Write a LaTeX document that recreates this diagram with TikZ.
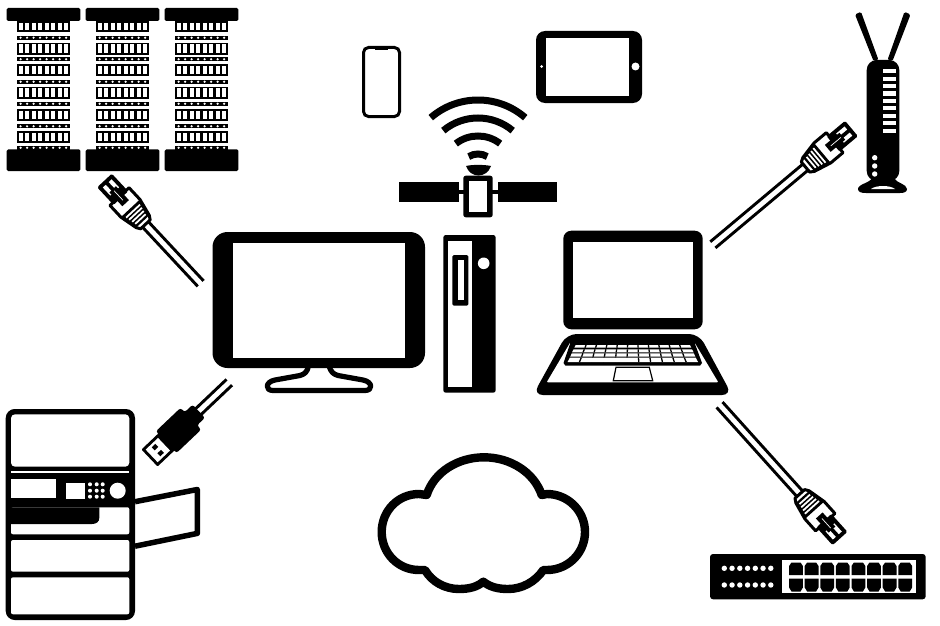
\documentclass[tikz,border=0pt]{standalone}
\usetikzlibrary{calc}
\tikzset{
  ink/.style={fill=black,draw=none},
  paper/.style={fill=white,draw=none},
  wire/.style={draw=black,line width=2.9pt},
  wave/.style={draw=black,line width=7pt,line cap=butt},
  outline/.style={draw=black,fill=white,line join=round}
}
\newcommand{\rjplug}[4]{%
  \begin{scope}[shift={(#1,#2)},rotate=#3]
    \draw[wire] (50,4) -- (#4,4);
    \draw[wire] (50,-4) -- (#4,-4);
    % boot
    \draw[outline,line width=3pt] (22,-13) -- (38,-13) -- (56,-9) -- (60,-6.5) -- (60,6.5) -- (56,9) -- (38,13) -- (22,13) -- cycle;
    % ring
    \fill[ink] (38,-13) -- (56,-9) -- (56,9) -- (38,13) -- cycle;
    \foreach \u/\w in {41/9.5,44.6/8.7,48.2/7.9,51.8/7.1}
      \fill[paper] (\u,-\w) rectangle (\u+1.8,\w);
    % head
    \fill[ink,rounded corners=1.5pt] (0,-10) -- (24,-10) -- (24,10) -- (0,10) -- cycle;
    \fill[paper] (4,-6) -- (15,-6) -- (15,-2) -- (4,-2) -- cycle;
    \fill[paper] (4,2) -- (15,2) -- (15,6) -- (4,6) -- cycle;
    \fill[ink] (12,-4.5) rectangle (31,4.5);
    \draw[white,line width=.7pt] (14,0) -- (27,0);
  \end{scope}}
\newcommand{\usbplug}[4]{%
  \begin{scope}[shift={(#1,#2)},rotate=#3]
    \draw[wire] (60,4) -- (#4,4);
    \draw[wire] (60,-4) -- (#4,-4);
    \fill[ink,rounded corners=2.5pt] (23,-15) -- (57,-15) -- (57,-9) -- (68,-9) -- (68,9) -- (57,9) -- (57,15) -- (23,15) -- cycle;
    \fill[ink,rounded corners=1pt] (0,-11.7) rectangle (26,11.7);
    \fill[paper] (3,-8.7) rectangle (20,8.7);
    \fill[ink] (9,-6.2) rectangle (14,-2);
    \fill[ink] (9,2) rectangle (14,6.2);
  \end{scope}}
\begin{document}
\begin{tikzpicture}[x=1pt,y=-1pt]
\useasboundingbox (0,0) rectangle (940,626);
\fill[white] (0,0) rectangle (940,626);

% server racks
\foreach \dx in {0,79,158}{
  \begin{scope}[shift={(\dx,0)}]
    \foreach \ty/\th in {21/11.3,42.7/12,64.3/12,86.7/12,108.7/12,130.7/12}{
      \fill[ink] (16.5,\ty) rectangle (70,\ty+\th);
      \foreach \i in {0,...,7}
        \fill[paper] (18.8+6.5*\i,\ty+1.8) rectangle (22.6+6.5*\i,\ty+\th-1.8);
    }
    \foreach \sy in {37.7,59.3,81.7,103.7,126.3,147.7}{
      \fill[ink] (16.5,\sy-1.9) rectangle (70,\sy+1.9);
      \foreach \i in {0,...,7}
        \fill[paper] (20.6+6.5*\i,\sy) circle (1.2);
    }
    \fill[ink,rounded corners=1.5pt] (6.7,8) rectangle (80.4,21);
    \fill[ink,rounded corners=1.5pt] (6.7,149.3) rectangle (80.4,171);
  \end{scope}}

% phone
\draw[draw=black,line width=3pt,rounded corners=5pt] (363.5,47.5) rectangle (399.5,116.5);
\fill[ink] (375,47) rectangle (388,50);
% tablet
\fill[ink,rounded corners=9pt] (536,31) rectangle (642,103);
\fill[paper] (546,38.5) rectangle (629,96);
\fill[paper] (635.5,66.5) circle (4);
\fill[paper] (541.5,66.5) circle (1.5);

% wifi waves
\foreach \r/\a in {72/41,54/40,36/38,18/31}
  \draw[wave] ({478-\r*sin(\a)},{172-\r*cos(\a)}) arc[start angle=270-\a,end angle=270+\a,radius=\r];
% dish
\fill[ink] (466,166) .. controls (472,164.5) and (484,164.5) .. (491,166) .. controls (489,172) and (484,175.5) .. (478.5,175.5) .. controls (473,175.5) and (468,172) .. (466,166) -- cycle;
% satellite
\fill[ink] (399,182.3) rectangle (459,201.7);
\fill[ink] (497.7,182.3) rectangle (556.7,201.7);
\fill[ink] (459,190) rectangle (497.7,193.5);
\fill[ink,rounded corners=2.5pt] (463.3,175.7) rectangle (492.7,217.3);
\fill[paper] (469.3,181) rectangle (487.3,211.7);

% monitor
\draw[draw=black,fill=white,line width=5.2pt,line join=round] (308.5,366) .. controls (307,372) and (305,374) .. (300,375.5) -- (275,380) .. controls (265,382) and (265,390.5) .. (273,390.5) -- (365,390.5) .. controls (373,390.5) and (373,382) .. (363,380) -- (338,375.5) .. controls (333,374) and (331,372) .. (329,366);
\fill[ink,rounded corners=15pt] (212.5,232) rectangle (425,368);
\fill[paper] (233,242.5) rectangle (404.5,358);

% tower
\fill[ink,rounded corners=2.5pt] (443.3,235) rectangle (495.7,392.7);
\fill[paper] (448.3,240.7) rectangle (472.3,387.3);
\fill[paper] (483.7,263.3) circle (5.8);
\fill[ink,rounded corners=1.5pt] (452.3,255) rectangle (468.3,305.7);
\fill[paper] (457.7,260.3) rectangle (463.7,300.3);

% laptop screen
\fill[ink,rounded corners=8pt] (563.3,230.7) rectangle (702.7,329.3);
\fill[paper] (573.3,242.3) rectangle (692.7,317.7);
% laptop base
\fill[ink,rounded corners=10pt] (566.7,334) -- (699,334) -- (732,395) -- (533,395) -- cycle;
\fill[paper,rounded corners=1pt] (571.7,340) -- (693,340) -- (718.3,382.3) -- (546.7,382.3) -- cycle;
\fill[ink] (570,339) -- (695,339) -- (695,344) -- (702,363) -- (700,365.7) -- (565.5,365.7) -- (563.5,363) -- (570,344) -- cycle;
\foreach \ya/\yb/\xa/\xb/\xc/\xd in {345/347.7/575.7/690/574.3/691.3,349.3/352.3/573.6/692/572/693.6,353.3/356.7/571.8/693.8/570.2/695.4,357.7/362/569.8/695.8/567.6/698}{
  \fill[paper] (\xa,\ya) -- (\xb,\ya) -- (\xd,\yb) -- (\xc,\yb) -- cycle;
  \foreach \i in {1,...,10}{
    \pgfmathsetmacro{\pa}{\xa+(\xb-\xa)*\i/11}
    \pgfmathsetmacro{\pb}{\xc+(\xd-\xc)*\i/11}
    \draw[black,line width=1.3pt] (\pa,\ya) -- (\pb,\yb);
  }
}
\fill[paper] (590,358.4) rectangle (636,361.6);
\draw[draw=black,fill=white,line width=1.2pt] (616,367.3) -- (649.3,367.3) -- (652.7,380.7) -- (613.3,380.7) -- cycle;

% printer
\draw[draw=black,line width=5.5pt,line join=round] (135,501.7) -- (197.3,489.5) -- (197.3,533.4) -- (135,546.2);
\fill[ink,rounded corners=9pt] (5.7,409) rectangle (135,620);
\fill[paper,rounded corners=4pt] (11,414.3) rectangle (129.3,466.7);
\fill[paper] (11,471) rectangle (129.3,473.3);
\fill[paper] (11,479.3) rectangle (55.7,498.3);
\fill[paper] (65.7,482.7) rectangle (85,499);
\foreach \kx in {90,96.7,102.7}
  \foreach \ky in {484.3,490.7,496.7}
    \fill[paper] (\kx,\ky) circle (2);
\fill[paper] (117.7,490.7) circle (8);
\fill[paper,rounded corners=2pt] (11,507.3) rectangle (129.3,534.3);
\fill[ink] (11,507.3) -- (99.3,507.3) -- (99.3,518) .. controls (99.3,522) and (96,524) .. (92,524) -- (11,524) -- cycle;
\fill[paper,rounded corners=2pt] (11,540) rectangle (129.3,571.7);
\fill[paper,rounded corners=2pt] (11,577.3) rectangle (129.3,614.3);

% cloud
\draw[draw=black,fill=white,line width=8.4pt,line join=round]
  (426.7,495) .. controls (434,472) and (458,457.3) .. (484,457.3)
  .. controls (510,457.3) and (534,472) .. (541.7,495)
  -- (547,494) .. controls (568,494) and (585,511) .. (585,532)
  .. controls (585,553) and (568,570) .. (547,570)
  -- (543.3,570) .. controls (535,582) and (522,589) .. (508,589)
  .. controls (498,589) and (490,587) .. (483.3,581.7)
  .. controls (477,587) and (469,589) .. (459,589)
  .. controls (445,589) and (432,582) .. (425,570)
  -- (419,570) .. controls (398,570) and (381.7,553) .. (381.7,532)
  .. controls (381.7,511) and (398,494) .. (419,494) -- cycle;

% router
\fill[ink,rounded corners=1.5pt] (855,14.5) -- (861,11.8) -- (878.5,60) -- (873.5,61) -- cycle;
\fill[ink,rounded corners=1.5pt] (910.5,14.5) -- (904.5,11.8) -- (887.5,60) -- (892.5,61) -- cycle;
\fill[ink,rounded corners=10pt] (866.7,60) rectangle (899.3,181);
\foreach \n in {0,...,8}
  \fill[paper] (882.7,69.3+7.4*\n) rectangle (896,73.3+7.4*\n);
\foreach \cy in {157.7,166,174}
  \fill[paper] (874.7,\cy) circle (2.7);
\fill[ink] (872,178) .. controls (870,183) and (858,184) .. (858,189) .. controls (858,192) and (861,193) .. (866,193) -- (900,193) .. controls (904,193) and (907,192) .. (907,189) .. controls (907,184) and (896,183) .. (894,178) -- cycle;
\fill[paper] (871,189) .. controls (876,185) and (890,185) .. (895,189) -- cycle;

% switch
\fill[ink,rounded corners=3pt] (710,554) rectangle (925.7,599.3);
\fill[paper] (782.3,560) rectangle (915.7,593.3);
\foreach \n in {0,...,7}{
  \begin{scope}[shift={(796+15.6*\n,0)}]
    \fill[ink] (-6.9,575) -- (-6.9,566) -- (-4.5,562.5) -- (4.5,562.5) -- (6.9,566) -- (6.9,575) -- cycle;
    \fill[ink] (-6.9,578.7) -- (-6.9,587.5) -- (-4.5,591.5) -- (4.5,591.5) -- (6.9,587.5) -- (6.9,578.7) -- cycle;
  \end{scope}
  }
\foreach \n in {0,...,6}{
  \fill[paper] (724.3+7.75*\n,568.3) circle (2.7);
  \fill[paper] (724.3+7.75*\n,585) circle (2.7);
}

% plugs and cables
\rjplug{104.5}{180.5}{-47}{141}
\rjplug{851.5}{128.5}{220}{181}
\rjplug{840}{538.5}{132}{180}
\usbplug{149.5}{458}{43.5}{110}
\end{tikzpicture}
\end{document}
